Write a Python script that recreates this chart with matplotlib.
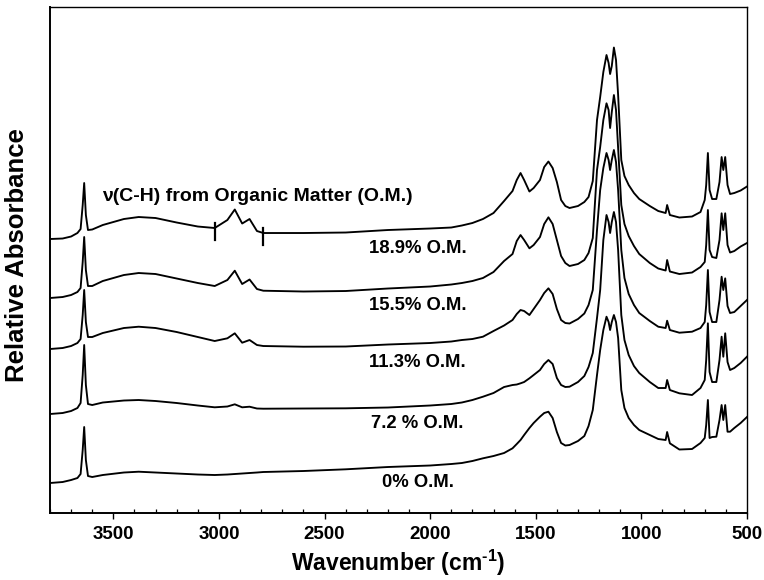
import numpy as np
import matplotlib
matplotlib.use("Agg")
import matplotlib.pyplot as plt
from matplotlib.ticker import MultipleLocator

plt.rcParams['font.family'] = ['Liberation Sans', 'DejaVu Sans']
plt.rcParams['font.weight'] = 'bold'
plt.rcParams['mathtext.fontset'] = 'custom'
plt.rcParams['mathtext.rm'] = 'Liberation Sans:bold'
plt.rcParams['mathtext.bf'] = 'Liberation Sans:bold'
plt.rcParams['mathtext.default'] = 'bf'

# Wavenumber grid (cm^-1) shared by all spectra
wavenumber = [3800, 3740, 3700, 3670, 3655, 3645, 3638, 3630, 3620, 3600,
              3550, 3450, 3380, 3300, 3200, 3100, 3020, 2960, 2925, 2890,
              2855, 2820, 2790, 2600, 2400, 2200, 2000, 1900, 1850, 1800,
              1750, 1700, 1650, 1610, 1590, 1572, 1555, 1530, 1510, 1480,
              1460, 1440, 1420, 1400, 1380, 1360, 1340, 1300, 1270, 1250,
              1230, 1210, 1195, 1180, 1165, 1155, 1148, 1140, 1130, 1120,
              1110, 1095, 1080, 1060, 1035, 1010, 960, 920, 885, 878,
              865, 820, 760, 720, 700, 693, 685, 677, 665, 645,
              630, 620, 612, 603, 592, 580, 560, 530, 500]

# Stacked absorbance traces (already offset for display)
om_18_9 = [2.74, 2.745, 2.765, 2.80, 2.84, 3.08, 3.30, 2.98, 2.83, 2.835,
           2.88, 2.94, 2.96, 2.95, 2.905, 2.865, 2.85, 2.93, 3.035, 2.895,
           2.94, 2.82, 2.80, 2.80, 2.805, 2.83, 2.845, 2.855, 2.875, 2.90,
           2.94, 3.00, 3.12, 3.22, 3.33, 3.40, 3.33, 3.215, 3.25, 3.33,
           3.46, 3.515, 3.45, 3.31, 3.13, 3.07, 3.05, 3.07, 3.11, 3.16,
           3.32, 3.93, 4.16, 4.41, 4.58, 4.50, 4.39, 4.47, 4.655, 4.53,
           4.18, 3.53, 3.37, 3.28, 3.20, 3.14, 3.07, 3.02, 3.00, 3.08,
           2.98, 2.955, 2.965, 3.01, 3.13, 3.28, 3.60, 3.23, 3.14, 3.14,
           3.31, 3.56, 3.43, 3.56, 3.28, 3.19, 3.20, 3.225, 3.265]

om_15_5 = [2.15, 2.16, 2.18, 2.21, 2.25, 2.51, 2.76, 2.43, 2.27, 2.27,
           2.32, 2.38, 2.40, 2.39, 2.345, 2.30, 2.27, 2.33, 2.423, 2.29,
           2.335, 2.24, 2.223, 2.215, 2.22, 2.245, 2.265, 2.285, 2.30, 2.32,
           2.35, 2.41, 2.52, 2.59, 2.72, 2.78, 2.73, 2.647, 2.68, 2.76,
           2.89, 2.957, 2.89, 2.73, 2.57, 2.50, 2.47, 2.49, 2.53, 2.60,
           2.75, 3.43, 3.66, 3.93, 4.097, 4.03, 3.85, 4.01, 4.18, 4.03,
           3.65, 3.08, 2.89, 2.77, 2.67, 2.59, 2.50, 2.445, 2.425, 2.53,
           2.415, 2.39, 2.405, 2.46, 2.51, 2.68, 3.03, 2.63, 2.56, 2.55,
           2.73, 2.997, 2.83, 2.997, 2.68, 2.605, 2.62, 2.665, 2.70]

om_11_3 = [1.64, 1.65, 1.67, 1.70, 1.74, 1.98, 2.23, 1.91, 1.76, 1.76,
           1.80, 1.85, 1.863, 1.85, 1.81, 1.76, 1.72, 1.747, 1.797, 1.703,
           1.73, 1.68, 1.67, 1.663, 1.665, 1.685, 1.70, 1.715, 1.73, 1.74,
           1.763, 1.82, 1.875, 1.93, 1.99, 2.03, 2.02, 1.98, 2.04, 2.13,
           2.20, 2.247, 2.19, 2.04, 1.93, 1.90, 1.895, 1.94, 1.995, 2.08,
           2.23, 2.83, 3.23, 3.45, 3.60, 3.53, 3.43, 3.53, 3.63, 3.51,
           3.23, 2.63, 2.35, 2.19, 2.08, 2.00, 1.92, 1.863, 1.85, 1.923,
           1.83, 1.803, 1.813, 1.85, 1.91, 2.08, 2.43, 2.01, 1.91, 1.91,
           2.13, 2.363, 2.23, 2.347, 2.07, 2.00, 2.01, 2.07, 2.13]

om_7_2 = [0.99, 1.00, 1.02, 1.05, 1.10, 1.38, 1.68, 1.28, 1.09, 1.08,
          1.105, 1.125, 1.13, 1.12, 1.10, 1.075, 1.057, 1.065, 1.087, 1.057,
          1.063, 1.045, 1.043, 1.045, 1.047, 1.055, 1.075, 1.09, 1.105, 1.13,
          1.163, 1.20, 1.26, 1.28, 1.285, 1.297, 1.31, 1.347, 1.38, 1.43,
          1.49, 1.53, 1.49, 1.35, 1.28, 1.26, 1.263, 1.31, 1.37, 1.46,
          1.60, 1.95, 2.23, 2.73, 2.98, 2.91, 2.80, 2.91, 3.01, 2.91,
          2.63, 1.98, 1.73, 1.58, 1.47, 1.40, 1.31, 1.25, 1.25, 1.33,
          1.23, 1.197, 1.18, 1.25, 1.33, 1.53, 1.897, 1.41, 1.31, 1.31,
          1.53, 1.763, 1.563, 1.797, 1.51, 1.43, 1.45, 1.50, 1.563]

om_0 = [0.30, 0.31, 0.33, 0.35, 0.39, 0.63, 0.86, 0.53, 0.37, 0.36,
        0.38, 0.405, 0.413, 0.405, 0.395, 0.385, 0.38, 0.385, 0.39, 0.395,
        0.40, 0.405, 0.41, 0.42, 0.437, 0.46, 0.475, 0.49, 0.50, 0.52,
        0.547, 0.57, 0.60, 0.647, 0.69, 0.73, 0.78, 0.85, 0.90, 0.963,
        1.00, 1.013, 0.95, 0.81, 0.70, 0.675, 0.68, 0.72, 0.77, 0.87,
        1.03, 1.38, 1.63, 1.83, 1.963, 1.91, 1.83, 1.91, 1.98, 1.91,
        1.75, 1.23, 1.05, 0.95, 0.88, 0.83, 0.78, 0.74, 0.73, 0.81,
        0.697, 0.635, 0.64, 0.70, 0.75, 0.88, 1.13, 0.75, 0.76, 0.763,
        0.93, 1.08, 0.93, 1.08, 0.813, 0.813, 0.85, 0.90, 0.96]

spectra = [om_18_9, om_15_5, om_11_3, om_7_2, om_0]
labels = ["18.9% O.M.", "15.5% O.M.", "11.3% O.M.", "7.2 % O.M.", "0% O.M."]
label_y = [2.65, 2.08, 1.51, 0.90, 0.31]

# integration limits of the C-H stretching band
ch_limits = [3020, 2790]

fig = plt.figure(figsize=(7.64, 5.8), dpi=100)
ax = fig.add_axes([0.0654, 0.1155, 0.9123, 0.8724])

for spec in spectra:
    ax.plot(wavenumber, spec, color='black', lw=1.35, solid_joinstyle='round')

wn_sorted = wavenumber[::-1]
for lim in ch_limits:
    yc = np.interp(lim, wn_sorted, om_18_9[::-1]) - 0.03
    ax.plot([lim, lim], [yc - 0.085, yc + 0.085], color='black', lw=1.6)

for txt, yl in zip(labels, label_y):
    ax.text(2060, yl, txt, ha='center', va='center', fontsize=13.3,
            fontweight='bold')

ax.text(3555, 3.17, "\u03bd(C-H) from Organic Matter (O.M.)", ha='left',
        va='center', fontsize=14, fontweight='bold')

ax.set_xlim(3800, 500)
ax.set_ylim(0, 5.06)
ax.xaxis.set_major_locator(MultipleLocator(500))
ax.xaxis.set_minor_locator(MultipleLocator(100))
ax.tick_params(axis='x', which='major', direction='out', length=4, width=1.0,
               labelsize=13.5, pad=5)
ax.tick_params(axis='x', which='minor', direction='in', length=3, width=0.9)
ax.set_yticks([])
for lbl in ax.get_xticklabels():
    lbl.set_fontweight('bold')
for side in ['left', 'bottom']:
    ax.spines[side].set_linewidth(1.4)
for side in ['top', 'right']:
    ax.spines[side].set_linewidth(1.0)

fig.text(398.5 / 764, 1 - 563 / 580, r"Wavenumber (cm$^{\text{-1}}$)",
         ha='center', va='center', fontsize=16.5, fontweight='bold')
fig.text(17 / 764, 1 - 255 / 580, "Relative Absorbance", ha='center',
         va='center', rotation=90, fontsize=18.5, fontweight='bold')

fig.savefig("out.png", dpi=100)
